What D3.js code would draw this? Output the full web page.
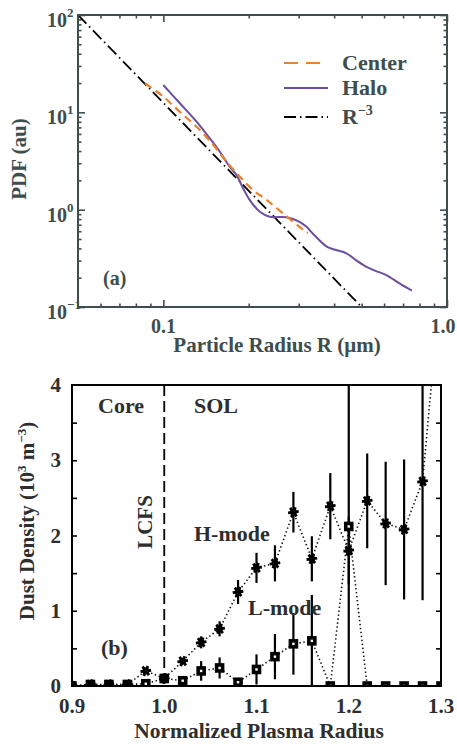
<!doctype html>
<html>
<head>
<meta charset="utf-8">
<title>Dust size PDF and dust density</title>
<style>
body { margin: 0; background: #fff; }
text { font-family: "Liberation Serif", "Times New Roman", serif; font-weight: bold; }
</style>
</head>
<body>
<svg width="457" height="744"></svg>
<script src="https://d3js.org/d3.v7.min.js"></script>
<script>
// panel (a): particle size PDF
var centerR   = [0.0861, 0.0999, 0.1143, 0.1309, 0.150, 0.167, 0.186, 0.207, 0.231, 0.264, 0.302, 0.323];
var centerPdf = [19.9, 14.5, 10.1, 7.11, 4.61, 3.10, 2.18, 1.59, 1.26, 0.917, 0.667, 0.575];

var haloR   = [0.0999, 0.1143, 0.1309, 0.1458, 0.1581, 0.1714, 0.1811, 0.191, 0.2017, 0.2187, 0.237, 0.2716, 0.302, 0.319, 0.34, 0.3755, 0.40, 0.442, 0.48, 0.52, 0.56, 0.611, 0.68, 0.752];
var haloPdf = [19.1, 12.4, 8.01, 5.40, 3.94, 2.76, 2.27, 1.66, 1.255, 0.951, 0.846, 0.834, 0.751, 0.67, 0.55, 0.42, 0.39, 0.356, 0.30, 0.259, 0.235, 0.213, 0.175, 0.147];

var lawR   = [0.05, 0.5];
var lawPdf = [100, 0.1];

var yTicksA = [0.1, 1, 10, 100];
var yTickExp = ["\u22121", "0", "1", "2"];
var xTicksA = [0.1, 1];
var xTickLabelsA = ["0.1", "1.0"];

// panel (b): dust density vs normalized radius
var radius = [0.90, 0.92, 0.94, 0.96, 0.98, 1.00, 1.02, 1.04, 1.06, 1.08, 1.10, 1.12, 1.14, 1.16, 1.18, 1.20, 1.22, 1.24, 1.26, 1.28, 1.30];
var hMode = [0, 0.02, 0.02, 0.02, 0.2, 0.1, 0.33, 0.58, 0.76, 1.25, 1.57, 1.63, 2.31, 1.69, 2.39, 1.8, 2.46, 2.16, 2.08, 2.72, 5.4];
var hErr  = [0, 0, 0, 0, 0, 0, 0, 0.08, 0.1, 0.16, 0.2, 0.24, 0.27, 0.3, 0.44, 0.45, 0.63, 0.82, 0.93, 1.58, 0];
var lMode = [0, 0.02, 0.02, 0.02, 0.03, 0.1, 0.07, 0.2, 0.24, 0.05, 0.22, 0.39, 0.56, 0.6, 0, 2.12, 0, 0, 0, 0, 0];
var lErr  = [0, 0, 0, 0, 0, 0, 0, 0.13, 0.14, 0, 0.2, 0.3, 0.41, 0.61, 0, 2.4, 0, 0, 0, 0, 0];

var xTicksB = [0.9, 1.0, 1.1, 1.2, 1.3];
var yTicksB = [0, 1, 2, 3, 4];

var svg = d3.select("svg");
var slate = "#3e4d4d";

// ---------------- panel (a) ----------------
var xa = d3.scaleLog().domain([0.05, 1]).range([78, 447]);
var ya = d3.scaleLog().domain([0.1, 100]).range([307, 15]);

var minorY = [];
[0.1, 1, 10].forEach(function(d) { for (var k = 2; k <= 9; k++) minorY.push(d * k); });
var minorX = [0.06, 0.07, 0.08, 0.09, 0.2, 0.3, 0.4, 0.5, 0.6, 0.7, 0.8, 0.9];

var ga = svg.append("g");

function tickAxis(axis, tr) {
  var g = ga.append("g").attr("transform", tr).call(axis);
  g.select(".domain").remove();
  g.selectAll("line").attr("stroke", slate).attr("stroke-width", 1.6);
  g.selectAll("text").remove();
}
tickAxis(d3.axisLeft(ya).tickValues(yTicksA).tickSize(-7), "translate(78,0)");
tickAxis(d3.axisLeft(ya).tickValues(minorY).tickSize(-3.5), "translate(78,0)");
tickAxis(d3.axisRight(ya).tickValues(yTicksA).tickSize(-7), "translate(447,0)");
tickAxis(d3.axisRight(ya).tickValues(minorY).tickSize(-3.5), "translate(447,0)");
tickAxis(d3.axisBottom(xa).tickValues(xTicksA).tickSize(-7), "translate(0,307)");
tickAxis(d3.axisBottom(xa).tickValues(minorX).tickSize(-3.5), "translate(0,307)");
tickAxis(d3.axisTop(xa).tickValues(xTicksA).tickSize(-7), "translate(0,15)");
tickAxis(d3.axisTop(xa).tickValues(minorX).tickSize(-3.5), "translate(0,15)");

ga.append("clipPath").attr("id", "clipA")
  .append("rect").attr("x", 78).attr("y", 15).attr("width", 369).attr("height", 292);

var lineA = d3.line()
  .x(function(d) { return xa(d[0]); })
  .y(function(d) { return ya(d[1]); })
  .curve(d3.curveCatmullRom);

var plotA = ga.append("g").attr("clip-path", "url(#clipA)");

plotA.append("path")
  .datum(d3.zip(lawR, lawPdf))
  .attr("d", lineA)
  .attr("fill", "none")
  .attr("stroke", "#000")
  .attr("stroke-width", 1.8)
  .attr("stroke-dasharray", "12,4,1.5,4");

plotA.append("path")
  .datum(d3.zip(haloR, haloPdf))
  .attr("d", lineA)
  .attr("fill", "none")
  .attr("stroke", "#6b4ea0")
  .attr("stroke-width", 2);

plotA.append("path")
  .datum(d3.zip(centerR, centerPdf))
  .attr("d", lineA)
  .attr("fill", "none")
  .attr("stroke", "#e5832f")
  .attr("stroke-width", 2.2)
  .attr("stroke-dasharray", "8,5");

ga.append("rect")
  .attr("x", 78).attr("y", 15).attr("width", 369).attr("height", 292)
  .attr("fill", "none").attr("stroke", slate).attr("stroke-width", 2);

// y tick labels with exponents
yTicksA.forEach(function(v, i) {
  ga.append("text")
    .attr("x", 67).attr("y", ya(v) + 12)
    .attr("text-anchor", "end")
    .attr("fill", slate)
    .style("font-size", "20px")
    .text("10");
  ga.append("text")
    .attr("x", 67).attr("y", ya(v) + 2)
    .attr("fill", slate)
    .style("font-size", "13px")
    .text(yTickExp[i]);
});

xTicksA.forEach(function(v, i) {
  ga.append("text")
    .attr("x", Math.min(xa(v), 443)).attr("y", 333)
    .attr("text-anchor", "middle")
    .attr("fill", slate)
    .style("font-size", "20px")
    .text(xTickLabelsA[i]);
});

ga.append("text")
  .attr("x", 277).attr("y", 352)
  .attr("text-anchor", "middle")
  .attr("fill", slate)
  .style("font-size", "21px")
  .text("Particle Radius R (\u03bcm)");

ga.append("text")
  .attr("transform", "translate(26,159) rotate(-90)")
  .attr("text-anchor", "middle")
  .attr("fill", slate)
  .style("font-size", "21px")
  .text("PDF (au)");

ga.append("text")
  .attr("x", 103).attr("y", 285)
  .attr("fill", slate)
  .style("font-size", "20px")
  .text("(a)");

// legend
var legend = [
  { label: "Center", color: "#e5832f", dash: "14,8", y: 63 },
  { label: "Halo", color: "#6b4ea0", dash: null, y: 88 },
  { label: "R", color: "#000", dash: "12,4,1.5,4", y: 117 }
];
legend.forEach(function(d) {
  ga.append("line")
    .attr("x1", 284).attr("x2", 328)
    .attr("y1", d.y).attr("y2", d.y)
    .attr("stroke", d.color)
    .attr("stroke-width", 2.2)
    .attr("stroke-dasharray", d.dash);
  var t = ga.append("text")
    .attr("x", 342).attr("y", d.y + 7)
    .attr("fill", slate)
    .style("font-size", "22px")
    .text(d.label);
  if (d.label == "R") {
    t.append("tspan").attr("dy", -9).style("font-size", "14px").text("\u22123");
  }
});

// ---------------- panel (b) ----------------
var xb = d3.scaleLinear().domain([0.9, 1.3]).range([72, 441]);
var yb = d3.scaleLinear().domain([0, 4]).range([686, 385]);

var gb = svg.append("g");
var minorB = [0.5, 1, 1.5, 2, 2.5, 3, 3.5];

gb.append("g").attr("transform", "translate(72,0)")
  .call(d3.axisLeft(yb).tickValues(minorB).tickSize(-5).tickFormat(""));
gb.append("g").attr("transform", "translate(441,0)")
  .call(d3.axisRight(yb).tickValues(minorB).tickSize(-5).tickFormat(""));
gb.selectAll(".domain").remove();
gb.selectAll(".tick line").attr("stroke", "#000").attr("stroke-width", 1.6);

gb.append("clipPath").attr("id", "clipB")
  .append("rect").attr("x", 72).attr("y", 385).attr("width", 369).attr("height", 301);

var plotB = gb.append("g").attr("clip-path", "url(#clipB)");

// LCFS
plotB.append("line")
  .attr("x1", xb(1.0)).attr("x2", xb(1.0))
  .attr("y1", yb(4)).attr("y2", yb(0))
  .attr("stroke", "#000").attr("stroke-width", 1.8)
  .attr("stroke-dasharray", "11,5");

var hData = radius.map(function(r, i) { return { r: r, v: hMode[i], e: hErr[i] }; });
var lData = radius.map(function(r, i) { return { r: r, v: lMode[i], e: lErr[i] }; });

var lineB = d3.line()
  .x(function(d) { return xb(d.r); })
  .y(function(d) { return yb(d.v); });

[hData, lData].forEach(function(data) {
  plotB.append("path")
    .datum(data)
    .attr("d", lineB)
    .attr("fill", "none")
    .attr("stroke", "#111")
    .attr("stroke-width", 1.6)
    .attr("stroke-dasharray", "1.4,2.6");

  plotB.selectAll(null)
    .data(data.filter(function(d) { return d.e > 0; }))
    .enter()
    .append("line")
    .attr("x1", function(d) { return xb(d.r); })
    .attr("x2", function(d) { return xb(d.r); })
    .attr("y1", function(d) { return yb(d.v - d.e); })
    .attr("y2", function(d) { return yb(d.v + d.e); })
    .attr("stroke", "#000")
    .attr("stroke-width", 2.2);
});

// L-mode: squares
plotB.selectAll(".sq")
  .data(lData)
  .enter()
  .append("rect")
  .attr("x", function(d) { return xb(d.r) - 3; })
  .attr("y", function(d) { return yb(d.v) - 3; })
  .attr("width", 6).attr("height", 6)
  .attr("fill", "#fff")
  .attr("stroke", "#000")
  .attr("stroke-width", 3.6);

// H-mode: asterisks
var star = d3.symbol().type(d3.symbolAsterisk).size(80);
hData.forEach(function(d) {
  plotB.append("path")
    .attr("d", star)
    .attr("transform", "translate(" + xb(d.r) + "," + yb(d.v) + ") rotate(22.5)")
    .attr("fill", "none")
    .attr("stroke", "#000")
    .attr("stroke-width", 2.8);
  plotB.append("circle")
    .attr("cx", xb(d.r)).attr("cy", yb(d.v)).attr("r", 3.4)
    .attr("fill", "#000");
});

gb.append("rect")
  .attr("x", 72).attr("y", 385).attr("width", 369).attr("height", 301)
  .attr("fill", "none").attr("stroke", "#000").attr("stroke-width", 2);

var ink = "#2e2e2e";
xTicksB.forEach(function(v) {
  gb.append("text")
    .attr("x", xb(v)).attr("y", 713)
    .attr("text-anchor", "middle")
    .attr("fill", ink)
    .style("font-size", "21px")
    .text(d3.format(".1f")(v));
});
yTicksB.forEach(function(v) {
  gb.append("text")
    .attr("x", 61).attr("y", yb(v) + 7)
    .attr("text-anchor", "end")
    .attr("fill", ink)
    .style("font-size", "21px")
    .text(v);
});

gb.append("text")
  .attr("x", 259).attr("y", 738)
  .attr("text-anchor", "middle")
  .attr("fill", ink)
  .style("font-size", "21.5px")
  .text("Normalized Plasma Radius");

var yt = gb.append("text")
  .attr("transform", "translate(34,521) rotate(-90)")
  .attr("text-anchor", "middle")
  .attr("fill", ink)
  .style("font-size", "21px");
yt.append("tspan").text("Dust Density (10");
yt.append("tspan").attr("dy", -8).style("font-size", "13px").text("3");
yt.append("tspan").attr("dy", 8).text(" m");
yt.append("tspan").attr("dy", -8).style("font-size", "13px").text("\u22123");
yt.append("tspan").attr("dy", 8).text(")");

var notes = [
  { t: "Core", x: 98, y: 413 },
  { t: "SOL", x: 194, y: 413 },
  { t: "H-mode", x: 194, y: 541 },
  { t: "L-mode", x: 248, y: 615 },
  { t: "(b)", x: 101, y: 655 }
];
notes.forEach(function(d) {
  gb.append("text")
    .attr("x", d.x).attr("y", d.y)
    .attr("fill", ink)
    .style("font-size", "22px")
    .text(d.t);
});
gb.append("text")
  .attr("transform", "translate(152,522) rotate(-90)")
  .attr("text-anchor", "middle")
  .attr("fill", ink)
  .style("font-size", "21px")
  .text("LCFS");
</script>
</body>
</html>
